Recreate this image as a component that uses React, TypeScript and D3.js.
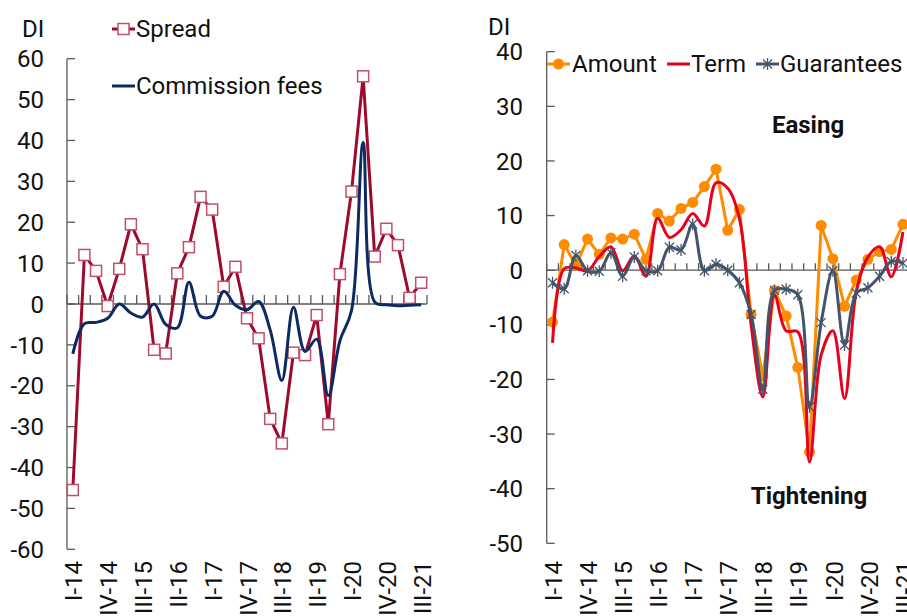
import React from "react";
import * as d3 from "d3";

const quarters = [
  "I-14", "II-14", "III-14", "IV-14",
  "I-15", "II-15", "III-15", "IV-15",
  "I-16", "II-16", "III-16", "IV-16",
  "I-17", "II-17", "III-17", "IV-17",
  "I-18", "II-18", "III-18", "IV-18",
  "I-19", "II-19", "III-19", "IV-19",
  "I-20", "II-20", "III-20", "IV-20",
  "I-21", "II-21", "III-21",
];

const spread = [-45.5, 12.0, 8.1, -0.5, 8.6, 19.5, 13.4, -11.2, -12.1, 7.5, 13.9, 26.2, 23.1, 4.2, 9.1, -3.5, -8.4, -28.1, -34.1, -11.9, -12.5, -2.7, -29.4, 7.3, 27.5, 55.7, 11.6, 18.4, 14.4, 1.5, 5.2];
const commissionFees = [-12.2, -4.8, -4.5, -3.5, 0, -2.2, -3.2, 0, -5.0, -5.8, 5.3, -3.0, -3.0, 3.1, -0.3, -1.4, 0.6, -6.4, -18.7, -0.8, -11.6, -8.6, -22.4, -9.0, -1.6, 39.5, 0.5, -0.2, -0.4, -0.3, -0.2];

const amount = [-9.5, 4.7, 0.9, 5.7, 2.9, 5.9, 5.7, 6.6, 2.0, 10.4, 9.0, 11.3, 12.4, 15.3, 18.5, 7.3, 11.1, -8.1, -19.4, -3.7, -8.4, -17.8, -33.3, 8.2, 2.1, -6.6, -1.8, 2.0, 3.4, 3.8, 8.4];
const term = [-13.3, 0.3, 0.4, -0.1, 2.5, 4.3, -0.1, 2.6, -1.1, 9.5, 6.0, 7.4, 10.4, 8.1, 16.0, 15.0, 9.5, -10.0, -23.2, -4.6, -11.1, -11.3, -35.1, -15.5, -11.1, -23.5, -4.0, 2.4, 4.3, -1.2, 7.0];
const guarantees = [-2.3, -3.4, 2.7, -0.1, -0.2, 3.2, -1.1, 2.4, -0.1, -0.1, 4.2, 3.7, 8.4, -0.1, 1.1, 0.0, -2.3, -8.1, -21.8, -3.7, -3.5, -4.5, -25.0, -9.6, -0.1, -13.7, -4.2, -3.2, -1.1, 1.6, 1.3];

const leftTicks = [-60, -50, -40, -30, -20, -10, 0, 10, 20, 30, 40, 50, 60];
const rightTicks = [-50, -40, -30, -20, -10, 0, 10, 20, 30, 40];
const labelStep = 3;

const FONT = "Roboto, 'Noto Sans', sans-serif";
const FS = 24;
const AXIS = "#595959";
const C_SPREAD = "#9E0A2E";
const C_SPREAD_MK = "#C0506A";
const C_COMM = "#0E2A63";
const C_AMOUNT = "#FF8C00";
const C_TERM = "#E8001C";
const C_GUAR = "#44546A";

type Pt = [number, number];

function Axes({ x, y, ticks, labelX, tickLen }: any) {
  const [r0, r1] = x.range();
  const [yb, yt] = y.range();
  const y0 = y(0);
  const bounds = d3.range(quarters.length + 1).map((i) => r0 + i * x.step());
  return (
    <g>
      <line x1={r0} x2={r0} y1={yt} y2={yb} stroke={AXIS} strokeWidth={1.3} />
      {ticks.map((t: number) => (
        <g key={t}>
          <line x1={r0} x2={r0 + 8} y1={y(t)} y2={y(t)} stroke={AXIS} strokeWidth={1.3} />
          <text x={labelX} y={y(t)} dy="0.36em" textAnchor="end" fontSize={FS} fontFamily={FONT} fill="#111">
            {t}
          </text>
        </g>
      ))}
      <line x1={r0} x2={r1} y1={y0} y2={y0} stroke={AXIS} strokeWidth={1.3} />
      {bounds.map((bx, i) => (
        <line key={i} x1={bx} x2={bx} y1={y0} y2={y0 - tickLen} stroke={AXIS} strokeWidth={1.3} />
      ))}
      {quarters.map((q, i) =>
        i % labelStep === 0 ? (
          <text
            key={q}
            transform={`translate(${(x(q) as number) + x.bandwidth() / 2 + 1},561) rotate(-90)`}
            dy="0.36em"
            textAnchor="end"
            fontSize={FS}
            fontFamily={FONT}
            fill="#111"
          >
            {q}
          </text>
        ) : null
      )}
    </g>
  );
}

function pts(x: any, y: any, vals: number[]): Pt[] {
  return vals.map((v, i) => [(x(quarters[i]) as number) + x.bandwidth() / 2, y(v)]);
}

function Star({ cx, cy, r, color }: { cx: number; cy: number; r: number; color: string }) {
  const d = r * 0.75;
  return (
    <g stroke={color} strokeWidth={1.3}>
      <line x1={cx} x2={cx} y1={cy - r} y2={cy + r} />
      <line x1={cx - d} x2={cx + d} y1={cy - d} y2={cy + d} />
      <line x1={cx - d} x2={cx + d} y1={cy + d} y2={cy - d} />
    </g>
  );
}

export default function App() {
  // Left panel
  const xL = d3.scaleBand<string>().domain(quarters).range([67, 427]).padding(0);
  const yL = d3.scaleLinear().domain([-60, 60]).range([549.3, 58.7]);
  // Right panel
  const xR = d3.scaleBand<string>().domain(quarters).range([546.7, 546.7 + 31 * 11.68]).padding(0);
  const yR = d3.scaleLinear().domain([-50, 40]).range([543.3, 51.7]);

  const straight = d3.line<Pt>().curve(d3.curveLinear);
  const smooth = d3.line<Pt>().curve(d3.curveCatmullRom.alpha(0.5));

  const spreadPts = pts(xL, yL, spread);
  const commPts = pts(xL, yL, commissionFees);
  const amountPts = pts(xR, yR, amount);
  const termPts = pts(xR, yR, term);
  const guarPts = pts(xR, yR, guarantees);

  return (
    <svg
      width={907}
      height={616}
      style={{ position: "absolute", left: 0, top: 0, background: "#fff" }}
      fontFamily={FONT}
    >
      <rect width={907} height={616} fill="#fff" />
      {/* LEFT PANEL */}
      <Axes x={xL} y={yL} ticks={leftTicks} labelX={44} tickLen={9} />
      <text x={22} y={37} fontSize={FS} fill="#111">DI</text>
      <path d={straight(spreadPts) || ""} fill="none" stroke={C_SPREAD} strokeWidth={3} />
      {spreadPts.map(([cx, cy], i) => (
        <rect key={i} x={cx - 5.5} y={cy - 5.5} width={11} height={11} fill="#fff" stroke={C_SPREAD_MK} strokeWidth={1.5} />
      ))}
      <path d={smooth(commPts) || ""} fill="none" stroke={C_COMM} strokeWidth={3} />
      {/* left legend */}
      <line x1={112} x2={135} y1={29} y2={29} stroke={C_SPREAD} strokeWidth={3} />
      <rect x={118} y={23.5} width={11} height={11} fill="#fff" stroke={C_SPREAD_MK} strokeWidth={1.5} />
      <text x={136} y={37} fontSize={FS} fill="#111">Spread</text>
      <line x1={112} x2={135} y1={86} y2={86} stroke={C_COMM} strokeWidth={3} />
      <text x={136} y={94} fontSize={FS} fill="#111">Commission fees</text>

      {/* RIGHT PANEL */}
      <Axes x={xR} y={yR} ticks={rightTicks} labelX={523} tickLen={7} />
      <text x={488} y={35} fontSize={FS} fill="#111">DI</text>
      <path d={straight(amountPts) || ""} fill="none" stroke={C_AMOUNT} strokeWidth={3} />
      {amountPts.map(([cx, cy], i) => (
        <circle key={i} cx={cx} cy={cy} r={5.5} fill={C_AMOUNT} />
      ))}
      <path d={smooth(termPts) || ""} fill="none" stroke={C_TERM} strokeWidth={3} />
      <path d={smooth(guarPts) || ""} fill="none" stroke={C_GUAR} strokeWidth={3} />
      {guarPts.map(([cx, cy], i) => (
        <Star key={i} cx={cx} cy={cy} r={6} color={C_GUAR} />
      ))}
      {/* right legend */}
      <line x1={547} x2={570} y1={64} y2={64} stroke={C_AMOUNT} strokeWidth={3} />
      <circle cx={558.5} cy={64} r={5.5} fill={C_AMOUNT} />
      <text x={572} y={72} fontSize={FS} fill="#111">Amount</text>
      <line x1={667} x2={690} y1={64} y2={64} stroke={C_TERM} strokeWidth={3} />
      <text x={691} y={72} fontSize={FS} fill="#111">Term</text>
      <line x1={756} x2={779} y1={64} y2={64} stroke={C_GUAR} strokeWidth={3} />
      <Star cx={767.5} cy={64} r={6} color={C_GUAR} />
      <text x={780} y={72} fontSize={FS} fill="#111">Guarantees</text>

      <text x={808} y={133} fontSize={FS} fontWeight="bold" textAnchor="middle" fill="#111">Easing</text>
      <text x={809} y={504} fontSize={FS} fontWeight="bold" textAnchor="middle" fill="#111">Tightening</text>
    </svg>
  );
}
